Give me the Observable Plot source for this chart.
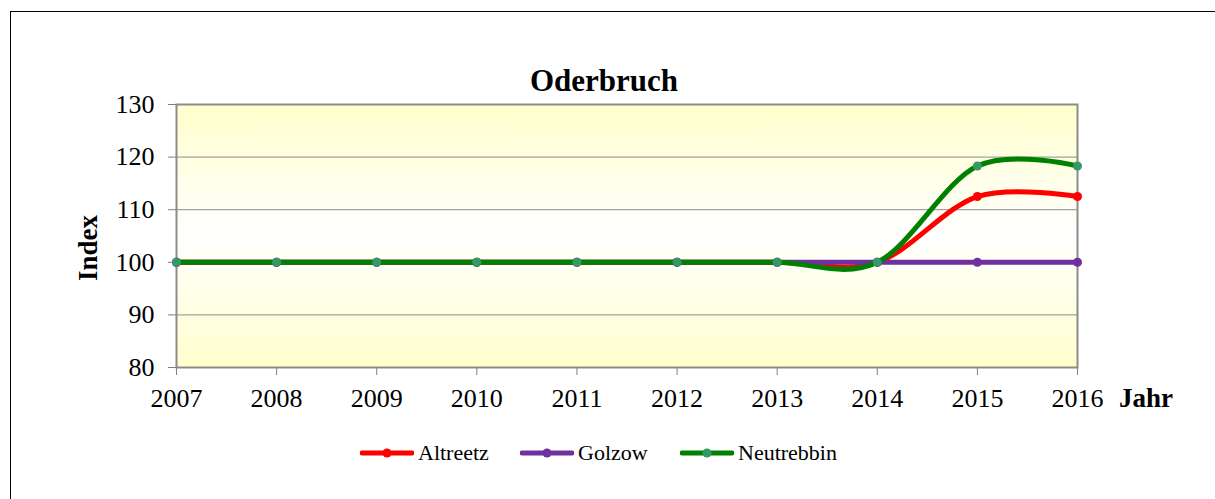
<!DOCTYPE html>
<html>
<head>
<meta charset="utf-8">
<script src="https://cdn.jsdelivr.net/npm/d3@7"></script>
<script src="https://cdn.jsdelivr.net/npm/@observablehq/plot@0.6"></script>
<style>
  html, body { margin: 0; padding: 0; background: #fff; overflow: hidden; }
  #wrap { position: relative; width: 1215px; height: 499px; overflow: hidden; font-family: "Liberation Serif", "Times New Roman", serif; }
  #border { position: absolute; left: 10px; top: 11px; width: 1300px; height: 700px; border: 1.5px solid #000; box-sizing: border-box; }
  #chart { position: absolute; left: 0; top: 0; }
  .lbl { position: absolute; color: #000; white-space: nowrap; }
  #title { left: 0; width: 1208px; top: 61px; text-align: center; font-weight: bold; font-size: 31px; line-height: 40px; }
  #jahr { left: 1119px; top: 383px; font-weight: bold; font-size: 27px; line-height: 30px; }
  #index { left: 88px; top: 248px; font-weight: bold; font-size: 27px; line-height: 30px; transform: translate(-50%, -50%) rotate(-90deg); }
  #legend { position: absolute; left: 0; top: 440px; height: 26px; }
  .leg { position: absolute; top: 0; display: flex; align-items: center; height: 26px; font-size: 22px; }
  .leg svg { margin-right: 4px; }
</style>
</head>
<body>
<div id="wrap">
  <div id="border"></div>
  <div id="chart"></div>
  <div class="lbl" id="title">Oderbruch</div>
  <div class="lbl" id="jahr">Jahr</div>
  <div class="lbl" id="index">Index</div>
  <div id="legend"></div>
</div>
<script>
const years = [2007, 2008, 2009, 2010, 2011, 2012, 2013, 2014, 2015, 2016];
const altreetz = [100, 100, 100, 100, 100, 100, 100, 100, 112.5, 112.5];
const golzow = [100, 100, 100, 100, 100, 100, 100, 100, 100, 100];
const neutrebbin = [100, 100, 100, 100, 100, 100, 100, 100, 118.3, 118.3];
const seriesNames = ["Altreetz", "Golzow", "Neutrebbin"];
const lineColors = ["#ff0000", "#7030a0", "#008000"];
const dotColors = ["#ff0000", "#7030a0", "#339966"];
const yTicks = [80, 90, 100, 110, 120, 130];

const seriesValues = [altreetz, golzow, neutrebbin];
const rows = seriesValues.map((vals, s) => years.map((yr, i) => ({series: seriesNames[s], year: yr, value: vals[i]})));

const defs = () => {
  const d = d3.create("svg:defs");
  const g = d.append("linearGradient").attr("id", "bg").attr("x1", 0).attr("y1", 0).attr("x2", 0).attr("y2", 1);
  g.append("stop").attr("offset", "0%").attr("stop-color", "#ffffcc");
  g.append("stop").attr("offset", "50%").attr("stop-color", "#ffffff");
  g.append("stop").attr("offset", "100%").attr("stop-color", "#ffffcc");
  return d.node();
};

const seriesMarks = [];
rows.forEach((data, s) => {
  seriesMarks.push(Plot.line(data, {x: "year", y: "value", stroke: lineColors[s], strokeWidth: 5, curve: "cardinal"}));
  seriesMarks.push(Plot.dot(data, {x: "year", y: "value", fill: dotColors[s], r: 4.5, stroke: "none"}));
});

const chart = Plot.plot({
  width: 1215,
  height: 499,
  marginLeft: 176,
  marginRight: 138,
  marginTop: 104,
  marginBottom: 132,
  style: {fontFamily: "'Liberation Serif', 'Times New Roman', serif", fontSize: "26px", color: "#000", background: "transparent", overflow: "visible"},
  x: {domain: [2007, 2016]},
  y: {domain: [80, 130]},
  marks: [
    defs,
    Plot.frame({fill: "url(#bg)", stroke: "none"}),
    Plot.gridY(yTicks.slice(1, -1), {stroke: "#8c8c8c", strokeOpacity: 1, strokeWidth: 1}),
    Plot.frame({stroke: "#8c8c8c", strokeWidth: 2}),
    Plot.axisY(yTicks, {tickSize: 8, tickPadding: 14, stroke: "#808080", fill: "#000", label: null, fontSize: 26}),
    Plot.axisX(years, {tickSize: 8, tickPadding: 13, stroke: "#808080", fill: "#000", label: null, tickFormat: d => String(d), fontSize: 26}),
    ...seriesMarks
  ]
});
document.getElementById("chart").appendChild(chart);

// legend
const legend = document.getElementById("legend");
const legX = [360, 520, 680];
seriesNames.forEach((name, s) => {
  const item = document.createElement("div");
  item.className = "leg";
  item.style.left = legX[s] + "px";
  item.innerHTML = `<svg width="54" height="26"><line x1="2" x2="52" y1="13" y2="13" stroke="${lineColors[s]}" stroke-width="5" stroke-linecap="round"/><circle cx="27" cy="13" r="4.5" fill="${dotColors[s]}"/></svg><span>${name}</span>`;
  legend.appendChild(item);
});
</script>
</body>
</html>
